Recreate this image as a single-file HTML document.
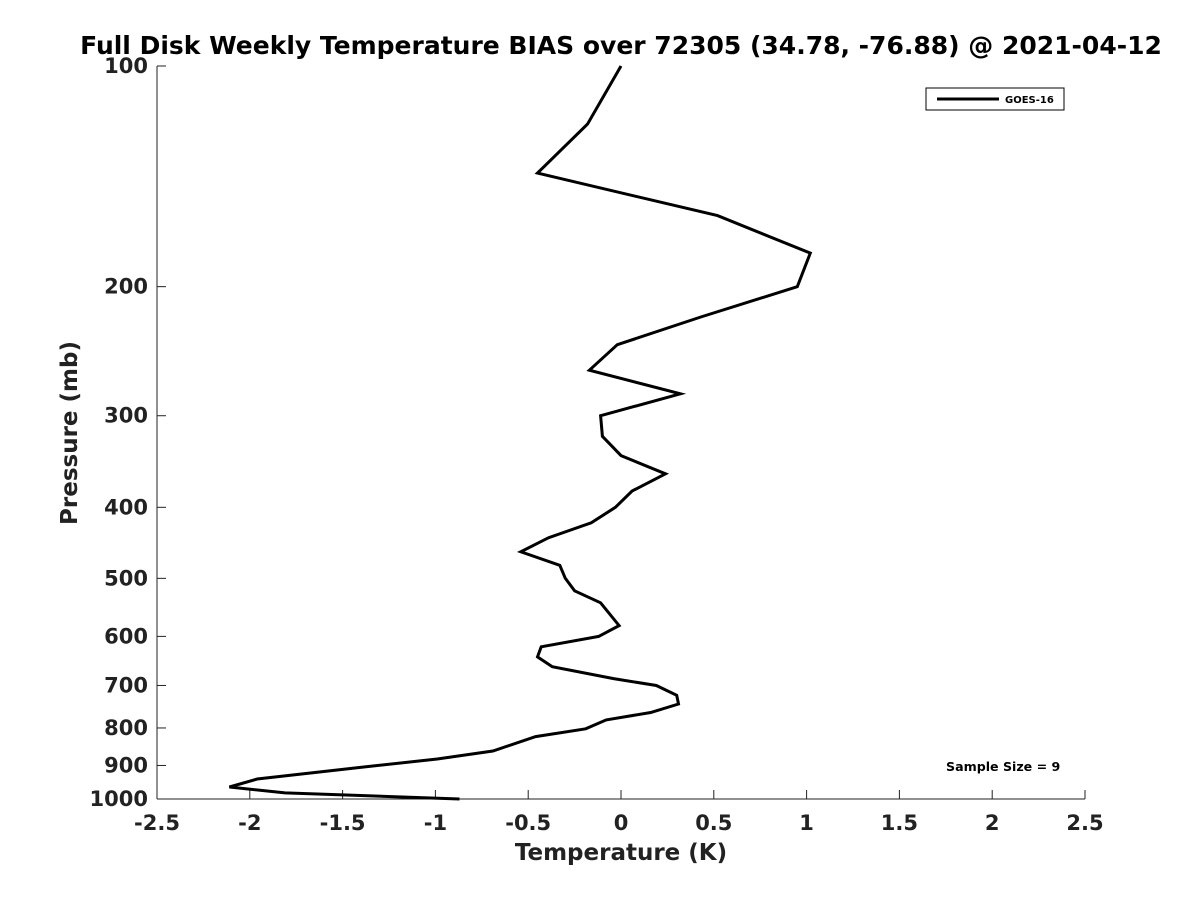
<!DOCTYPE html>
<html><head><meta charset="utf-8"><style>
body{margin:0;background:#fff;}
svg text{font-family:"DejaVu Sans","Liberation Sans",sans-serif;font-weight:bold;fill:#222;}
</style></head><body>
<svg id="chart" width="1200" height="900" xmlns="http://www.w3.org/2000/svg">
<rect width="1200" height="900" fill="#fff"/>
<text x="621" y="54" text-anchor="middle" font-size="25" style="fill:#000">Full Disk Weekly Temperature BIAS over 72305 (34.78, -76.88) @ 2021-04-12</text>
<g id="axes"></g>
<polyline id="line" fill="none" stroke="#000" stroke-width="3" stroke-linejoin="miter"/>
<g>
<rect x="926" y="88" width="138" height="22" fill="#fff" stroke="#000" stroke-width="1"/>
<line x1="937" y1="99" x2="999" y2="99" stroke="#000" stroke-width="3"/>
<text x="1005" y="103" font-size="10" style="fill:#000">GOES-16</text>
</g>
<text x="946" y="771" font-size="12.6" style="fill:#000">Sample Size = 9</text>
<text x="621" y="860" text-anchor="middle" font-size="23">Temperature (K)</text>
<text transform="translate(77,433) rotate(-90)" text-anchor="middle" font-size="23">Pressure (mb)</text>
</svg>
<script>
const xTicks=[-2.5,-2,-1.5,-1,-0.5,0,0.5,1,1.5,2,2.5];
const yTicks=[100,200,300,400,500,600,700,800,900,1000];
const temps=[0.0,-0.18,-0.45,0.52,1.02,0.95,0.43,-0.02,-0.17,0.32,-0.11,-0.10,0.0,0.24,0.06,-0.03,-0.16,-0.39,-0.54,-0.33,-0.30,-0.25,-0.11,-0.01,-0.12,-0.43,-0.45,-0.37,-0.04,0.19,0.30,0.31,0.16,-0.08,-0.19,-0.46,-0.69,-0.99,-1.38,-1.96,-2.11,-1.81,-0.87];
const pressures=[100,120,140,160,180,200,220,240,260,280,300,320,340,360,380,400,420,440,460,480,500,520,540,580,600,620,640,660,685,700,722,742,762,780,802,822,860,882,904,939,963,981,1000];
const X0=157,X1=1085,Y0=66,Y1=799;
const xs=v=>X0+(v+2.5)/5*(X1-X0);
const ys=p=>Y0+Math.log10(p/100)*(Y1-Y0);
const ns="http://www.w3.org/2000/svg";
const ax=document.getElementById('axes');
function mk(t,a){const e=document.createElementNS(ns,t);for(const k in a)e.setAttribute(k,a[k]);return e;}
const xl=mk('line',{x1:X0,y1:Y1,x2:X1,y2:Y1,stroke:'#222','stroke-width':1});


ax.appendChild(xl);
const yl=mk('line',{x1:X0,y1:Y0,x2:X0,y2:Y1,stroke:'#222','stroke-width':1});


ax.appendChild(yl);
xTicks.forEach(v=>{
 const x=xs(v);
 ax.appendChild(mk('line',{x1:x,y1:Y1,x2:x,y2:Y1-9,stroke:'#222'}));
 const t=mk('text',{x:x,y:830,'text-anchor':'middle','font-size':21});
 
 
 t.textContent=String(v);ax.appendChild(t);
});
yTicks.forEach(p=>{
 const y=ys(p);
 ax.appendChild(mk('line',{x1:X0,y1:y,x2:X0+9,y2:y,stroke:'#222'}));
 const t=mk('text',{x:148,y:y+7,'text-anchor':'end','font-size':21});
 
 
 t.textContent=String(p);ax.appendChild(t);
});
document.getElementById('line').setAttribute('points',temps.map((t,i)=>xs(t).toFixed(1)+','+ys(pressures[i]).toFixed(1)).join(' '));
</script>
</body></html>
